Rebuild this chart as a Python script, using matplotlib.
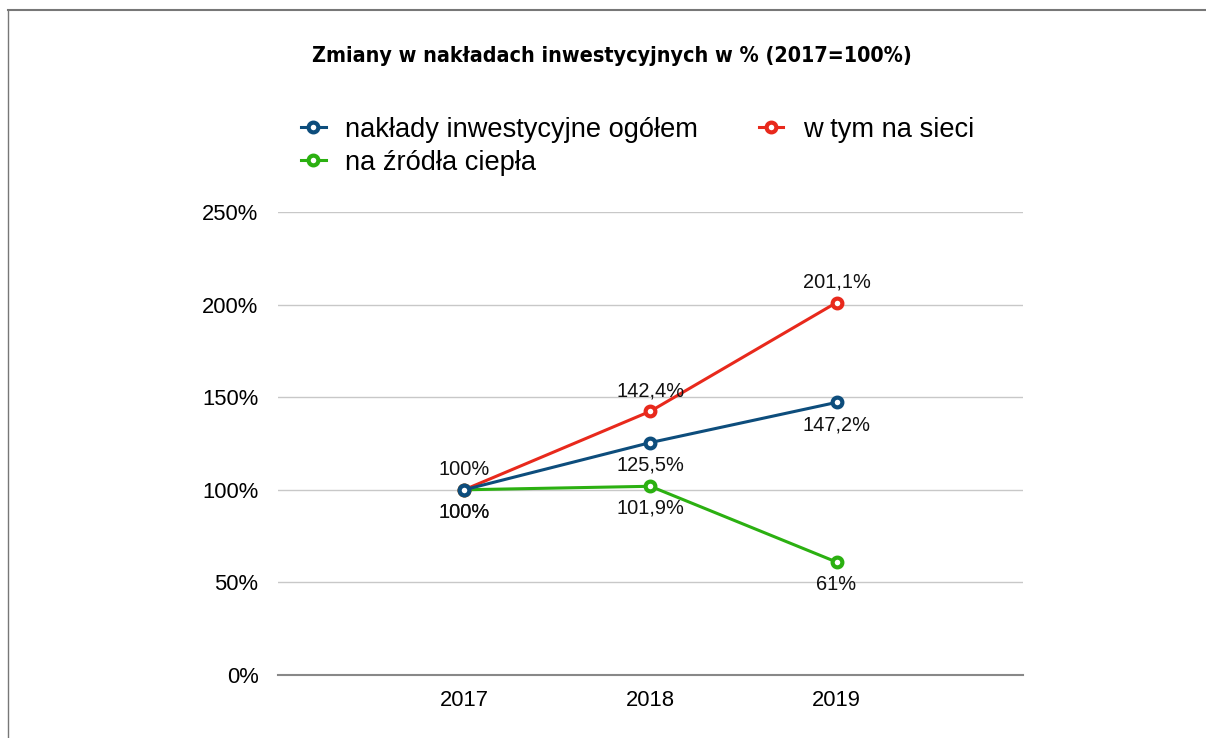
import matplotlib.pyplot as plt
from matplotlib.lines import Line2D

years = ["2017", "2018", "2019"]
total = [100, 125.5, 147.2]
networks = [100, 142.4, 201.1]
heat_sources = [100, 101.9, 61]
total_labels = ["100%", "125,5%", "147,2%"]
networks_labels = ["100%", "142,4%", "201,1%"]
heat_labels = ["100%", "101,9%", "61%"]
y_ticks = [0, 50, 100, 150, 200, 250]

BLUE = "#0d4d7c"
RED = "#e8291c"
GREEN = "#2bb011"

plt.rcParams["font.family"] = ["Liberation Sans", "DejaVu Sans"]

fig = plt.figure(figsize=(12.06, 7.38), dpi=100)
ax = fig.add_axes([0.2305, 0.0854, 0.6175, 0.6273])

x = range(len(years))
series = [
    (heat_sources, GREEN, heat_labels, ["below", "below", "below"]),
    (networks, RED, networks_labels, ["above", "above", "above"]),
    (total, BLUE, total_labels, ["below", "below", "below"]),
]
for vals, col, labels, pos in series:
    ax.plot(x, vals, color=col, lw=2.2, marker="o", ms=7, mfc="white",
            mec=col, mew=3, zorder=3)
    for xi, v, lab, p in zip(x, vals, labels, pos):
        dy = 14.5 if p == "above" else -16
        ax.annotate(lab, (xi, v), xytext=(0, dy), textcoords="offset points",
                    ha="center", va="center", fontsize=14.4, color="#111111")

ax.set_xlim(-1, 3)
ax.set_ylim(0, 250)
ax.set_xticks(list(x))
ax.set_xticklabels(years)
ax.set_yticks(y_ticks)
ax.set_yticklabels([f"{t}%" for t in y_ticks])
ax.tick_params(length=0, labelsize=15.8, pad=14)
ax.tick_params(axis="x", pad=11)
ax.grid(axis="y", color="#c8c8c8", lw=1)
for s in ["top", "right", "left"]:
    ax.spines[s].set_visible(False)
ax.spines["bottom"].set_color("#888888")
ax.spines["bottom"].set_linewidth(1.5)
ax.set_axisbelow(True)

# condensed bold title
fig.text(0.507, 0.924, "Zmiany w nakładach inwestycyjnych w % (2017=100%)",
         ha="center", va="center", fontsize=15.4, fontweight="bold",
         fontstretch="condensed", family=["DejaVu Sans"])

handles = [
    Line2D([], [], color=c, lw=2.2, marker="o", ms=7, mfc="white", mec=c, mew=3)
    for c in (BLUE, GREEN, RED)
]
fig.legend(handles, ["nakłady inwestycyjne ogółem", "na źródła ciepła", "w tym na sieci"],
           ncol=2, loc="upper left", bbox_to_anchor=(0.2496, 0.842), frameon=False,
           fontsize=19.6, handlelength=0.9, handletextpad=0.73, columnspacing=2.22,
           labelspacing=0.27, borderaxespad=0, borderpad=0)

# frame lines along the top and left edge
fig.add_artist(Line2D([0.0066, 1], [0.986, 0.986], color="#777777", lw=1.5))
fig.add_artist(Line2D([0.0066, 0.0066], [0, 0.986], color="#777777", lw=1))

fig.savefig("out.png", dpi=100)
